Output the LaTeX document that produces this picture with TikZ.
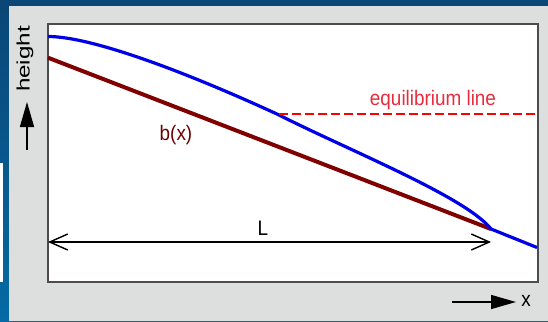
\documentclass[tikz,border=0pt]{standalone}
\usepackage{fontspec}
\setmainfont{Liberation Sans}[FakeStretch=0.9]
\usetikzlibrary{arrows.meta}
\definecolor{slideblue}{RGB}{10,70,118}
\definecolor{slidebluelow}{RGB}{6,106,164}
\definecolor{panelgray}{RGB}{221,223,222}
\definecolor{surfblue}{RGB}{0,0,232}
\definecolor{bedbrown}{RGB}{128,0,0}
\definecolor{eqred}{RGB}{232,44,62}

\begin{document}
\begin{tikzpicture}[
        x=1pt, y=-1pt,
        % Style pour les textes
        lbl/.style={
            font=\fontsize{21}{24}\selectfont,
            anchor=base,
            inner sep=0pt
        },
        % Style pour les flèches des axes
        axisArrow/.style={
            -{Triangle[length=25pt, width=14pt]},
            line width=1.4pt
        },
        % Style pour la cote L
        dimArrow/.style={
            {Straight Barb[length=18pt, width=16pt]}-{Straight Barb[length=18pt, width=16pt]},
            line width=1.4pt
        },
        % Surface de la glace
        surface/.style={draw=surfblue, line width=3.2pt, line join=round},
        % Lit rocheux
        bed/.style={draw=bedbrown, line width=4pt},
        % Ligne d'équilibre
        eqline/.style={draw=red, line width=2.8pt, dash pattern=on 8.5pt off 4.5pt}
    ]
    \useasboundingbox (0,0) rectangle (548,321);

    % Fond de la diapositive
    \shade[top color=slideblue, bottom color=slidebluelow] (0,0) rectangle (548,321);
    \fill[white] (0,163) rectangle (3,282);
    \fill[panelgray] (9,6) rectangle (548,321);

    % Cadre du graphique
    \draw[draw=black!70, line width=1.5pt, fill=white] (48,24) rectangle (538,282);

    % Lit et surface
    \draw[bed] (48,57.7) -- (491,229);
    \draw[surface] (48,36.5) .. controls (90,36.5) and (180,69.4) .. (278,114.5)
        .. controls (348,150) and (466,197) .. (491,229) -- (537,247.5);

    % Ligne d'équilibre
    \coordinate (eqA) at (279,114);
    \coordinate (eqB) at (537,114);
    \draw[eqline] (eqA) -- (eqB);
    \node[lbl, text=eqred] (eqlabel) at (433,105) {equilibrium line};

    \node[lbl, text=bedbrown!85!black] (bedlabel) at (176,140) {b(x)};

    % Cote L
    \coordinate (Lg) at (48,242);
    \coordinate (Ld) at (491,242);
    \draw[dimArrow] (Lg) -- (Ld);
    \node[lbl] (Llabel) at (263,235) {L};

    % Axes
    \coordinate (hA) at (27,150);
    \coordinate (hB) at (27,102);
    \draw[axisArrow] (hA) -- (hB);
    \node[lbl, anchor=center, rotate=90, font=\fontsize{24}{28}\selectfont] (hlabel) at (25,59) {\scalebox{1.12}[.75]{height}};

    \coordinate (xA) at (452,302);
    \coordinate (xB) at (516,302);
    \draw[axisArrow] (xA) -- (xB);
    \node[lbl] (xlabel) at (526,306) {x};

    \end{tikzpicture}
\end{document}
